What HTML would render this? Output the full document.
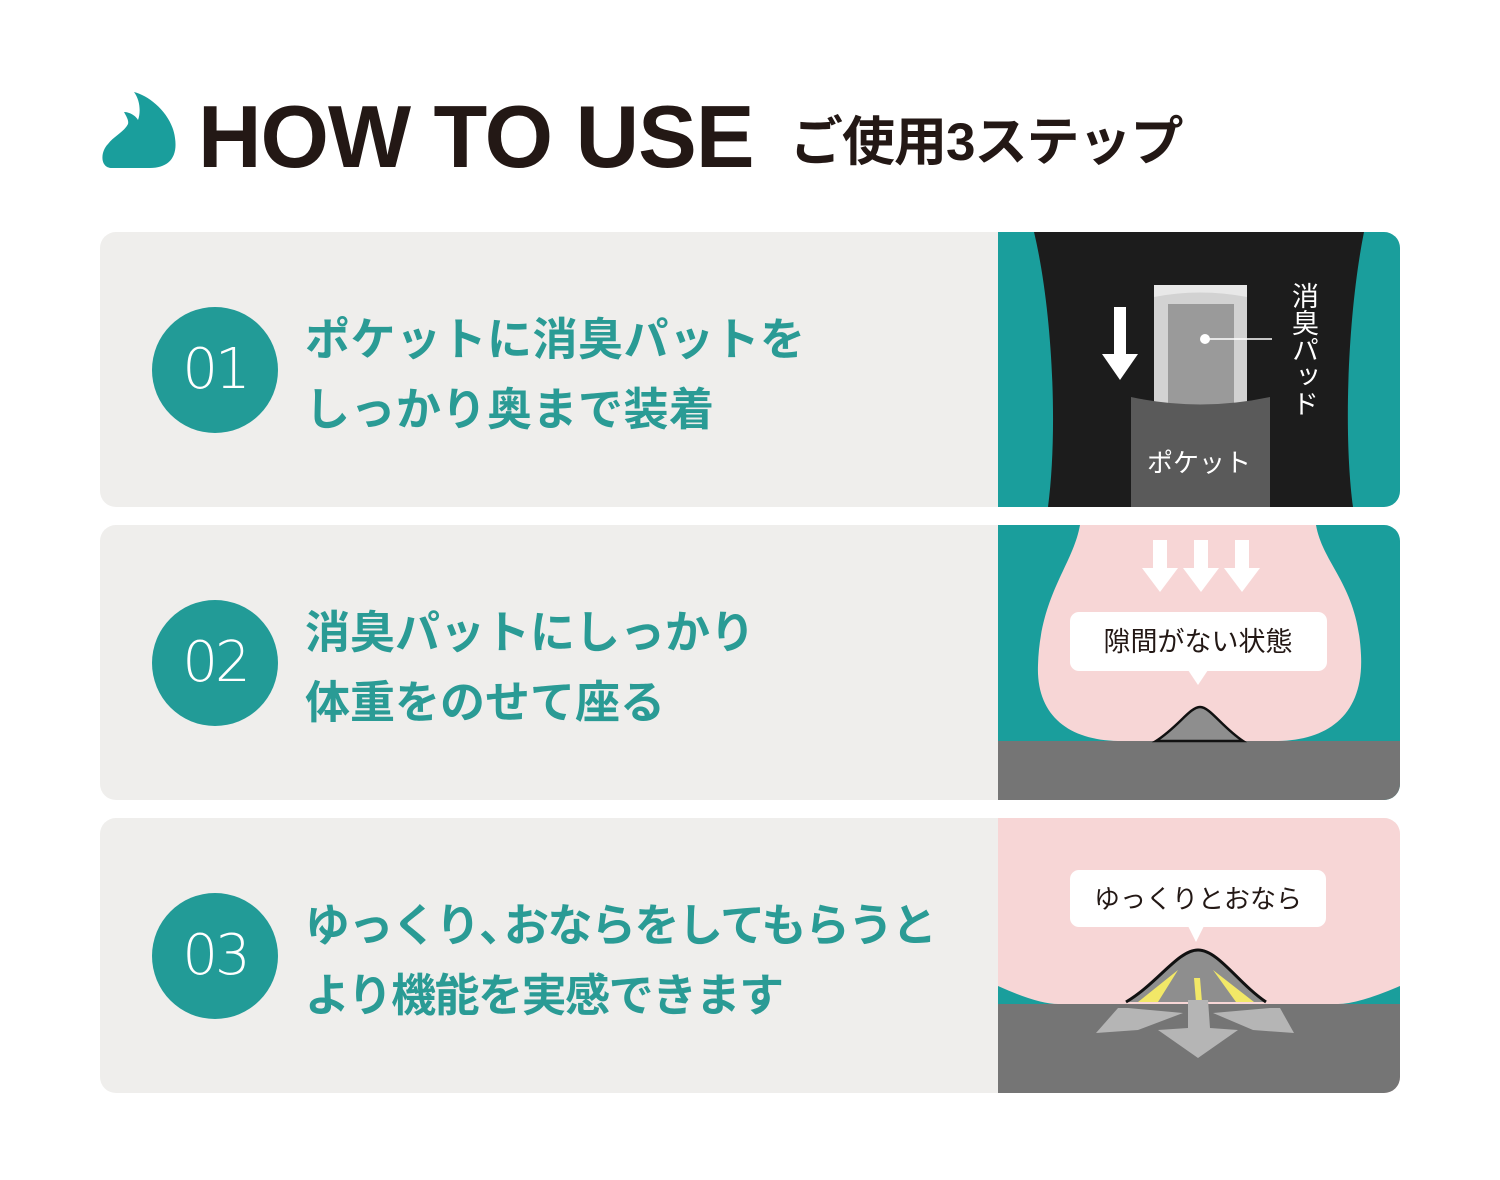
<!DOCTYPE html>
<html><head><meta charset="utf-8"><style>
body{margin:0;width:1500px;height:1180px;background:#fff;position:relative;overflow:hidden;font-family:"Liberation Sans","Noto Sans CJK JP",sans-serif}
.abs{position:absolute}
.card{position:absolute;left:100px;width:1300px;height:275px;background:#efeeec;border-radius:16px;overflow:hidden}
.circ{position:absolute;left:52px;top:75px;width:126px;height:126px;border-radius:50%;background:#229b97;color:#fff;font-size:56px;font-weight:300;text-align:center;line-height:126px;font-family:"DejaVu Sans","Liberation Sans",sans-serif;letter-spacing:-3px}
.txt{position:absolute;left:205px;top:75px;color:#2a9b95;font-size:45px;font-weight:bold;line-height:70px;letter-spacing:0.5px;white-space:nowrap}
.img{position:absolute;left:898px;top:0;width:402px;height:275px}
</style></head><body>
<svg class="abs" style="left:100px;top:88px" width="80" height="84" viewBox="0 0 80 84">
<path d="M12 80 C0 80 0 64 8 56 C14 48 24 44 28 36 C29 32 26 28 24 24 C30 24 36 28 38 32 C41 24 40 12 34 4 C50 8 72 26 75 50 C78 70 68 80 50 80 Z" fill="#1a9e9c"/>
</svg>
<div class="abs" style="left:198px;top:82px;font-size:88px;font-weight:bold;color:#231815;letter-spacing:-1px;line-height:110px">HOW TO USE</div>
<div class="abs" style="left:790px;top:110px;font-size:53px;font-weight:bold;color:#231815;line-height:66px;letter-spacing:-1px">ご使用3ステップ</div>

<div class="card" style="top:232px">
<div class="circ">01</div>
<div class="txt" style="top:73px">ポケットに消臭パットを<br>しっかり奥まで装着</div>
<svg class="img" viewBox="0 0 402 275">
<rect width="402" height="275" fill="#1a9e9c"/>
<path d="M36 0 L366 0 C350 80 345 200 355 275 L50 275 C60 200 55 80 36 0Z" fill="#1c1c1c"/>
<rect x="156" y="53" width="93" height="125" fill="#d2d2d2"/>
<path d="M156 53 L249 53 L249 65 Q202 56 156 65Z" fill="#e8e8e8"/>
<rect x="170" y="72" width="66" height="105" fill="#9a9a9a"/>
<circle cx="207" cy="107" r="5" fill="#fff"/><line x1="207" y1="107" x2="274" y2="107" stroke="#fff" stroke-width="1.5"/>
<path d="M133 165 Q202 180 272 165 L272 275 L133 275Z" fill="#5a5a5a"/>
<path d="M116 75 L128 75 L128 122 L140 122 L122 148 L104 122 L116 122Z" fill="#fff"/>
<text x="201" y="240" fill="#fff" font-size="26" text-anchor="middle" font-family="Liberation Sans,Noto Sans CJK JP,sans-serif">ポケット</text>
<text x="305" y="50" fill="#fff" font-size="27" font-family="Liberation Sans,Noto Sans CJK JP,sans-serif" style="writing-mode:vertical-rl" text-anchor="start">消臭パッド</text>
</svg>
</div>

<div class="card" style="top:525px">
<div class="circ">02</div>
<div class="txt" style="top:73px;letter-spacing:0">消臭パットにしっかり<br>体重をのせて座る</div>
<svg class="img" viewBox="0 0 402 275">
<rect width="402" height="275" fill="#1a9e9c"/>
<path d="M82 0 L318 0 C325 40 360 60 363 130 C366 190 330 215 280 216 L120 216 C70 215 38 190 40 140 C42 70 75 40 82 0Z" fill="#f7d6d6"/>
<rect x="0" y="216" width="402" height="59" fill="#757575"/>
<path d="M158 216 C180 202 192 182 202 182 C212 182 224 202 245 216Z" fill="#8e8e8e" stroke="#111" stroke-width="2.5"/>
<g fill="#fff">
<path d="M155 15h14v28h11l-18 24-18-24h11z"/>
<path d="M196 15h14v28h11l-18 24-18-24h11z"/>
<path d="M237 15h14v28h11l-18 24-18-24h11z"/>
<rect x="72" y="87" width="257" height="59" rx="9"/>
<path d="M190 145 L200 160 L210 145Z"/>
</g>
<text x="200" y="126" fill="#231815" font-size="27" text-anchor="middle" font-family="Liberation Sans,Noto Sans CJK JP,sans-serif">隙間がない状態</text>
</svg>
</div>

<div class="card" style="top:818px">
<div class="circ">03</div>
<div class="txt" style="top:73px;letter-spacing:-1.5px">ゆっくり<span style="letter-spacing:-20px">、</span>おならをしてもらうと<br>より機能を実感できます</div>
<svg class="img" viewBox="0 0 402 275">
<rect width="402" height="275" fill="#f7d6d6"/>
<path d="M0 168 Q40 186 60 186 L0 186Z M402 168 Q360 186 340 186 L402 186Z" fill="#1a9e9c"/>
<rect x="0" y="186" width="402" height="89" fill="#757575"/>
<path d="M128 184 C160 165 180 132 200 132 C220 132 240 165 268 184Z" fill="#8e8e8e"/>
<path d="M140 184 L180 152 L160 184Z M196 160 L198 184 L204 184 L202 160Z M215 152 L256 184 L238 184Z" fill="#f2e867"/>
<path d="M128 184 C160 165 180 132 200 132 C220 132 240 165 268 184" fill="none" stroke="#111" stroke-width="3"/>
<g fill="#b5b5b5">
<path d="M130 190 L120 190 L98 215 L140 212 L185 195Z"/>
<path d="M272 190 L282 190 L296 215 L255 212 L215 195Z"/>
<path d="M190 182 L210 182 L212 210 L240 212 L200 240 L160 212 L190 210Z"/>
</g>
<rect x="72" y="52" width="256" height="57" rx="9" fill="#fff"/>
<path d="M190 108 L198 124 L206 108Z" fill="#fff"/>
<text x="200" y="90" fill="#231815" font-size="26" text-anchor="middle" font-family="Liberation Sans,Noto Sans CJK JP,sans-serif">ゆっくりとおなら</text>
</svg>
</div>
</body></html>
